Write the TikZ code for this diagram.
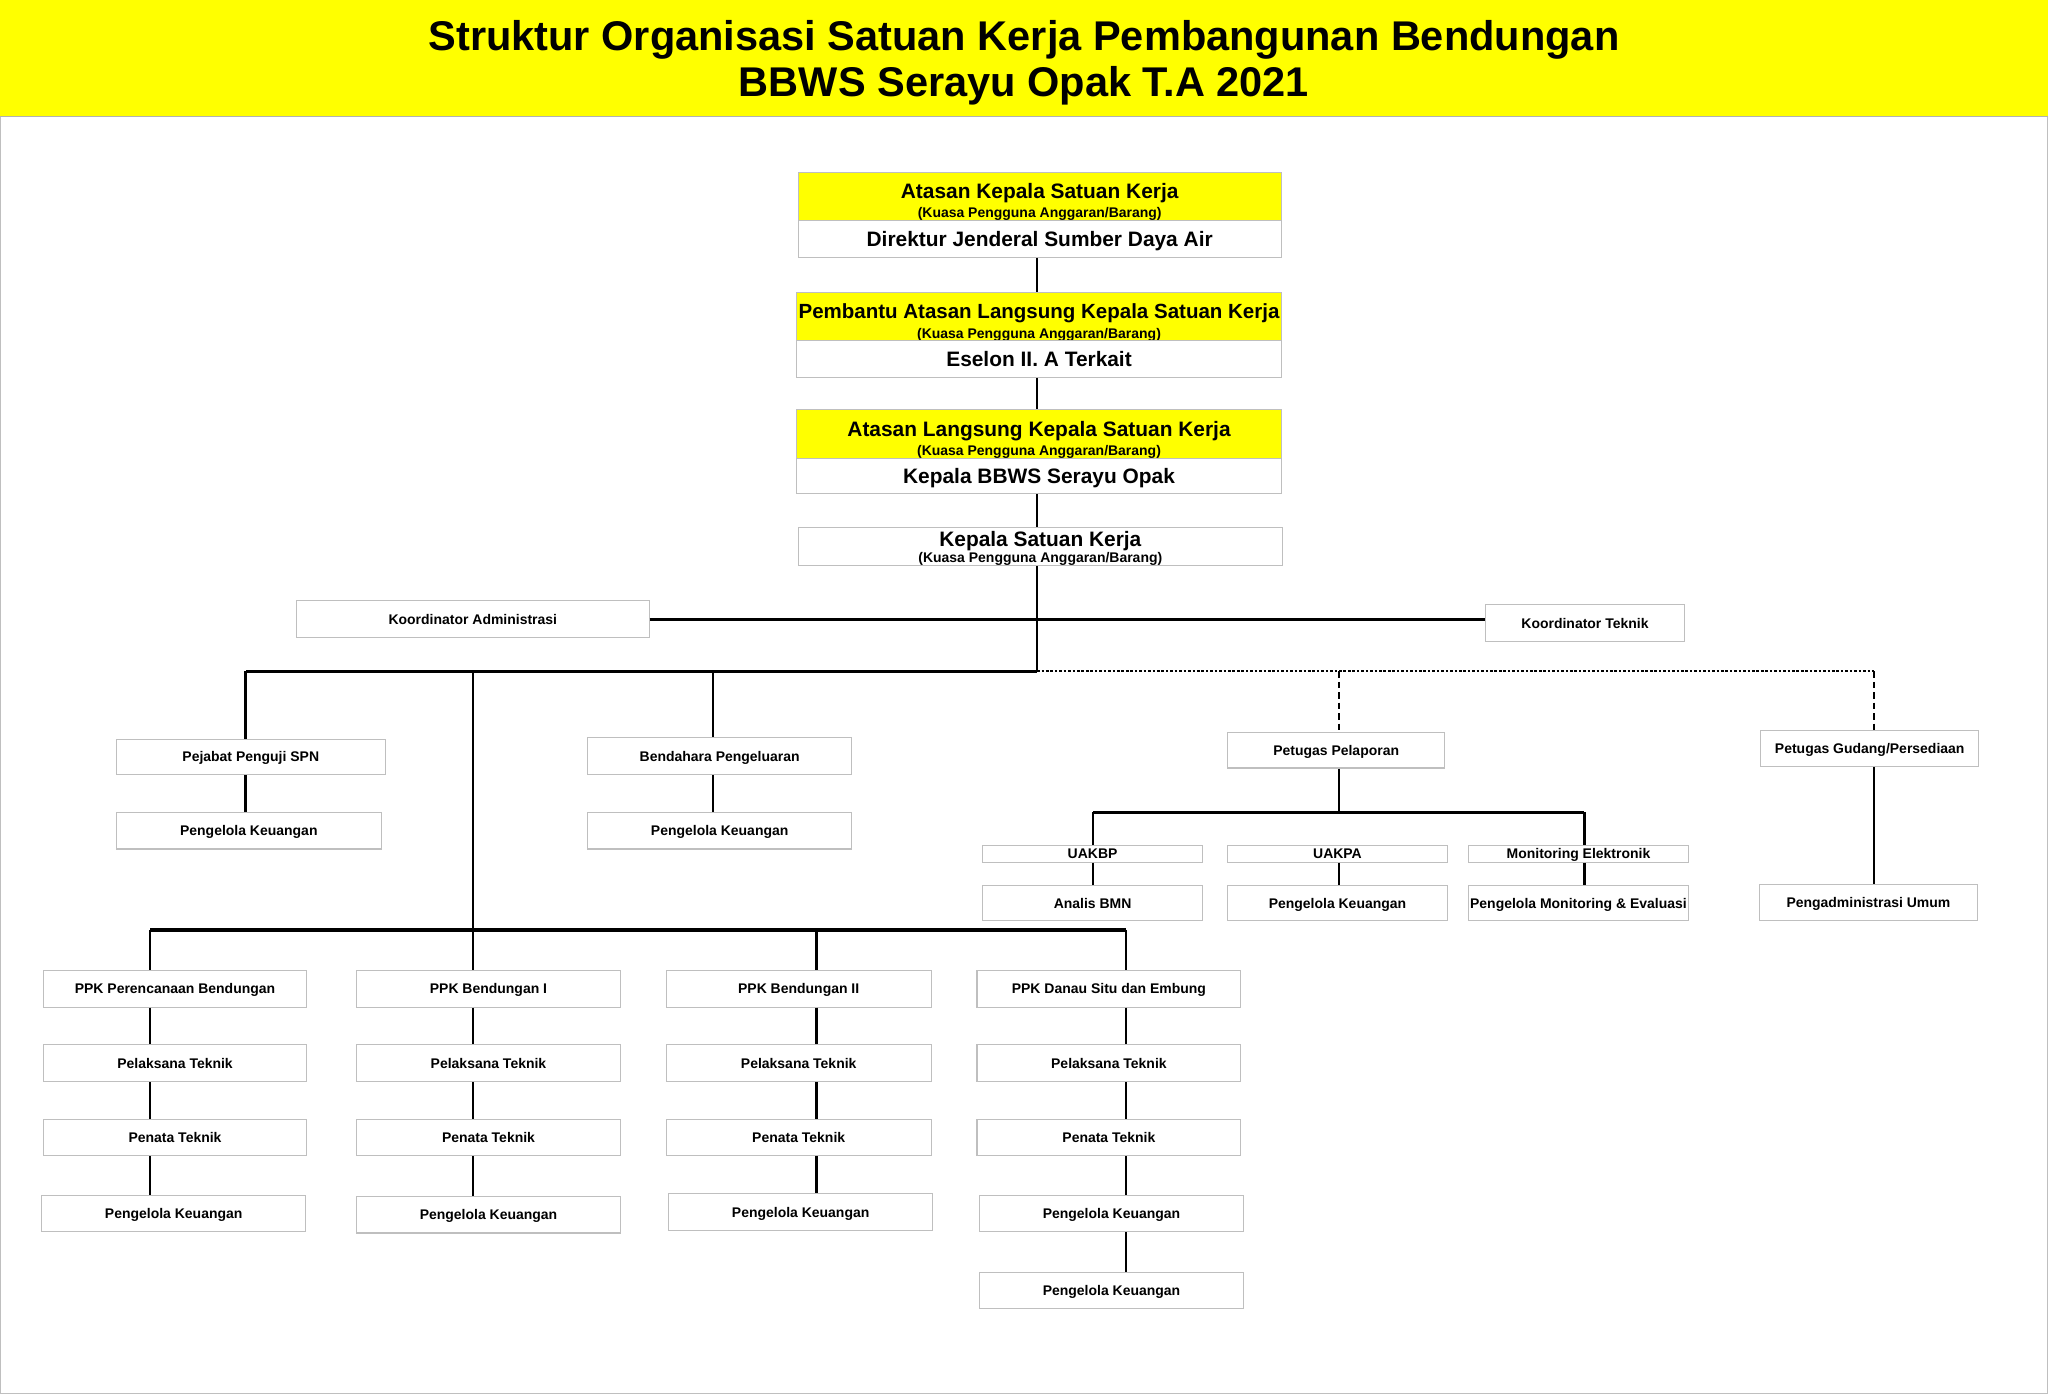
\documentclass[tikz,border=0pt]{standalone}
\usepackage{fontspec}
\setmainfont{Liberation Sans}
\usepackage{tikz}

\definecolor{kuning}{RGB}{255,255,0}
\newcommand\ttlfont{\fontsize{31.8}{35}\selectfont\bfseries}
\newcommand\hdfont{\fontsize{16}{17}\selectfont\bfseries}
\newcommand\kpafont{\fontsize{10.7}{12}\selectfont\bfseries}

\tikzset{
  box/.style={draw=gray!50, fill=white, line width=0.8pt, inner sep=0pt,
    minimum height=28pt, font=\kpafont, text height=7.7pt, text depth=0pt},
  hdbox/.style={box, font=\hdfont, text height=11.5pt},
  ybox/.style={draw=gray!50, fill=kuning, line width=0.8pt, inner sep=0pt,
    minimum height=37pt, font=\hdfont, align=center},
  link/.style={line width=1.8pt},
  bus/.style={line width=2.4pt},
  dotln/.style={line width=1.6pt, dash pattern=on 2pt off 1.4pt},
  dashln/.style={line width=1.6pt, dash pattern=on 5pt off 3pt}
}

\begin{document}
\begin{tikzpicture}[x=1pt, y=-1pt]
        \useasboundingbox (0,0) rectangle (1568,1067);
        \draw[gray!50] (0.5,0.5) rectangle (1567.5,1066.5);
        \fill[kuning] (0,0) rectangle (1568,89);
        \draw[gray!60] (0,89) -- (1568,89);
        \node[font=\ttlfont, align=center] (title) at (784,48)
          {Struktur Organisasi Satuan Kerja Pembangunan Bendungan\\BBWS Serayu Opak T.A 2021};

        % pimpinan
        \node[ybox, minimum width=370pt] (atasan) at (796,150.5)
          {\rule{0pt}{20pt}Atasan Kepala Satuan Kerja\\[-2pt]{\kpafont (Kuasa Pengguna Anggaran/Barang)}};
        \node[hdbox, minimum width=370pt] (dirjen) at (796,183) {Direktur Jenderal Sumber Daya Air};
        \node[ybox, minimum width=371pt] (pembantu) at (795.5,242.5)
          {\rule{0pt}{20pt}{\fontsize{15.7}{17}\selectfont Pembantu Atasan Langsung Kepala Satuan Kerja}\\[-2pt]{\kpafont (Kuasa Pengguna Anggaran/Barang)}};
        \node[hdbox, minimum width=371pt] (eselon) at (795.5,275) {Eselon II. A Terkait};
        \node[ybox, minimum width=371pt] (atasanL) at (795.5,332.5)
          {\rule{0pt}{20pt}Atasan Langsung Kepala Satuan Kerja\\[-2pt]{\kpafont (Kuasa Pengguna Anggaran/Barang)}};
        \node[hdbox, minimum width=371pt, minimum height=27pt] (kabbws) at (795.5,364.5) {Kepala BBWS Serayu Opak};
        \node[ybox, fill=white, minimum width=371pt, minimum height=29pt] (kasatker) at (796.5,418.5)
          {\rule{0pt}{14.5pt}Kepala Satuan Kerja\\[-5pt]{\kpafont (Kuasa Pengguna Anggaran/Barang)}};

        \node[box, minimum width=270pt] (koorAdm) at (362,474) {Koordinator Administrasi};
        \node[box, minimum width=153pt] (koorTek) at (1213.5,477) {Koordinator Teknik};

        % keuangan
        \node[box, minimum width=206pt, minimum height=27pt] (pejabat) at (192,579.5) {Pejabat Penguji SPN};
        \node[box, minimum width=203pt] (pkSPN) at (190.5,636) {Pengelola Keuangan};
        \node[box, minimum width=202pt] (bendahara) at (551,579) {Bendahara Pengeluaran};
        \node[box, minimum width=202pt] (pkBend) at (551,636) {Pengelola Keuangan};

        % pelaporan
        \node[box, minimum width=166pt, minimum height=27pt] (pelaporan) at (1023,574.5) {Petugas Pelaporan};
        \node[box, minimum width=169pt, minimum height=13pt] (uakbp) at (836.5,653.5) {UAKBP};
        \node[box, minimum width=168pt, minimum height=13pt] (uakpa) at (1024,653.5) {UAKPA};
        \node[box, minimum width=169pt, minimum height=13pt] (monEl) at (1208.5,653.5) {Monitoring Elektronik};
        \node[box, minimum width=169pt, minimum height=27pt] (analis) at (836.5,691.5) {Analis BMN};
        \node[box, minimum width=168pt, minimum height=27pt] (pkUakpa) at (1024,691.5) {Pengelola Keuangan};
        \node[box, minimum width=169pt, minimum height=27pt] (pengMon) at (1208.5,691.5) {Pengelola Monitoring \& Evaluasi};
        \node[box, minimum width=167pt] (gudang) at (1431.5,573) {Petugas Gudang/Persediaan};
        \node[box, minimum width=167pt] (umum) at (1430.5,691) {Pengadministrasi Umum};

        % PPK
        \node[box, minimum width=202pt] (ppkA) at (134,757) {PPK Perencanaan Bendungan};
        \node[box, minimum width=202pt] (pelA) at (134,814) {Pelaksana Teknik};
        \node[box, minimum width=202pt] (penA) at (134,871) {Penata Teknik};
        \node[box, minimum width=202pt] (pkA) at (133,929) {Pengelola Keuangan};
        \node[box, minimum width=202pt] (ppkB) at (374,757) {PPK Bendungan I};
        \node[box, minimum width=202pt] (pelB) at (374,814) {Pelaksana Teknik};
        \node[box, minimum width=202pt] (penB) at (374,871) {Penata Teknik};
        \node[box, minimum width=202pt] (pkB) at (374,930) {Pengelola Keuangan};
        \node[box, minimum width=203pt] (ppkC) at (611.5,757) {PPK Bendungan II};
        \node[box, minimum width=203pt] (pelC) at (611.5,814) {Pelaksana Teknik};
        \node[box, minimum width=203pt] (penC) at (611.5,871) {Penata Teknik};
        \node[box, minimum width=202pt] (pkC) at (613,928) {Pengelola Keuangan};
        \node[box, minimum width=202pt] (ppkD) at (849,757) {PPK Danau Situ dan Embung};
        \node[box, minimum width=202pt] (pelD) at (849,814) {Pelaksana Teknik};
        \node[box, minimum width=202pt] (penD) at (849,871) {Penata Teknik};
        \node[box, minimum width=202pt] (pkD) at (851,929) {Pengelola Keuangan};
        \node[box, minimum width=202pt] (pkE) at (851,988) {Pengelola Keuangan};

        % garis
        \coordinate (spine) at (794,514);
        \coordinate (dSPN) at (188,514);
        \coordinate (dPPK) at (362,514);
        \coordinate (dBend) at (546,514);
        \coordinate (dLap) at (1025,514);
        \coordinate (dGud) at (1435,514);
        \coordinate (bUakL) at (837,622);
        \coordinate (bUakR) at (1213,622);
        \coordinate (cA) at (115,712);
        \coordinate (cB) at (362,712);
        \coordinate (cC) at (625,712);
        \coordinate (cD) at (862,712);

        \draw[link] (spine |- dirjen.south) -- (spine |- pembantu.north);
        \draw[link] (spine |- eselon.south) -- (spine |- atasanL.north);
        \draw[link] (spine |- kabbws.south) -- (spine |- kasatker.north);
        \draw[link] (spine |- kasatker.south) -- (spine);
        \draw[bus] (koorAdm.east) -- (koorAdm.east -| koorTek.west);
        \draw[bus] (spine) -- (dSPN);
        \draw[link] (dSPN) -- (dSPN |- pejabat.north);
        \draw[link] (dPPK) -- (cB);
        \draw[link] (dBend) -- (dBend |- bendahara.north);
        \draw[dotln] (spine) -- (dGud);
        \draw[dashln] (dLap) -- (dLap |- pelaporan.north);
        \draw[dashln] (dGud) -- (dGud |- gudang.north);
        \draw[link] (dSPN |- pejabat.south) -- (dSPN |- pkSPN.north);
        \draw[link] (dBend |- bendahara.south) -- (dBend |- pkBend.north);

        \draw[link] (dLap |- pelaporan.south) -- (dLap |- bUakL);
        \draw[bus] (bUakL) -- (bUakR);
        \draw[link] (bUakL) -- (bUakL |- uakbp.north);
        \draw[link] (bUakR) -- (bUakR |- monEl.north);
        \draw[link] (bUakL |- uakbp.south) -- (bUakL |- analis.north);
        \draw[link] (dLap |- uakpa.south) -- (dLap |- pkUakpa.north);
        \draw[link] (bUakR |- monEl.south) -- (bUakR |- pengMon.north);
        \draw[link] (dGud |- gudang.south) -- (dGud |- umum.north);

        \draw[bus] (cA) -- (cD);
        \draw[link] (cA) -- (cA |- ppkA.north);
        \draw[link] (cB) -- (cB |- ppkB.north);
        \draw[link] (cC) -- (cC |- ppkC.north);
        \draw[link] (cD) -- (cD |- ppkD.north);
        \draw[link] (cA |- ppkA.south) -- (cA |- pelA.north);
        \draw[link] (cA |- pelA.south) -- (cA |- penA.north);
        \draw[link] (cA |- penA.south) -- (cA |- pkA.north);
        \draw[link] (cB |- ppkB.south) -- (cB |- pelB.north);
        \draw[link] (cB |- pelB.south) -- (cB |- penB.north);
        \draw[link] (cB |- penB.south) -- (cB |- pkB.north);
        \draw[link] (cC |- ppkC.south) -- (cC |- pelC.north);
        \draw[link] (cC |- pelC.south) -- (cC |- penC.north);
        \draw[link] (cC |- penC.south) -- (cC |- pkC.north);
        \draw[link] (cD |- ppkD.south) -- (cD |- pelD.north);
        \draw[link] (cD |- pelD.south) -- (cD |- penD.north);
        \draw[link] (cD |- penD.south) -- (cD |- pkD.north);
        \draw[link] (cD |- pkD.south) -- (cD |- pkE.north);
      \end{tikzpicture}
\end{document}
